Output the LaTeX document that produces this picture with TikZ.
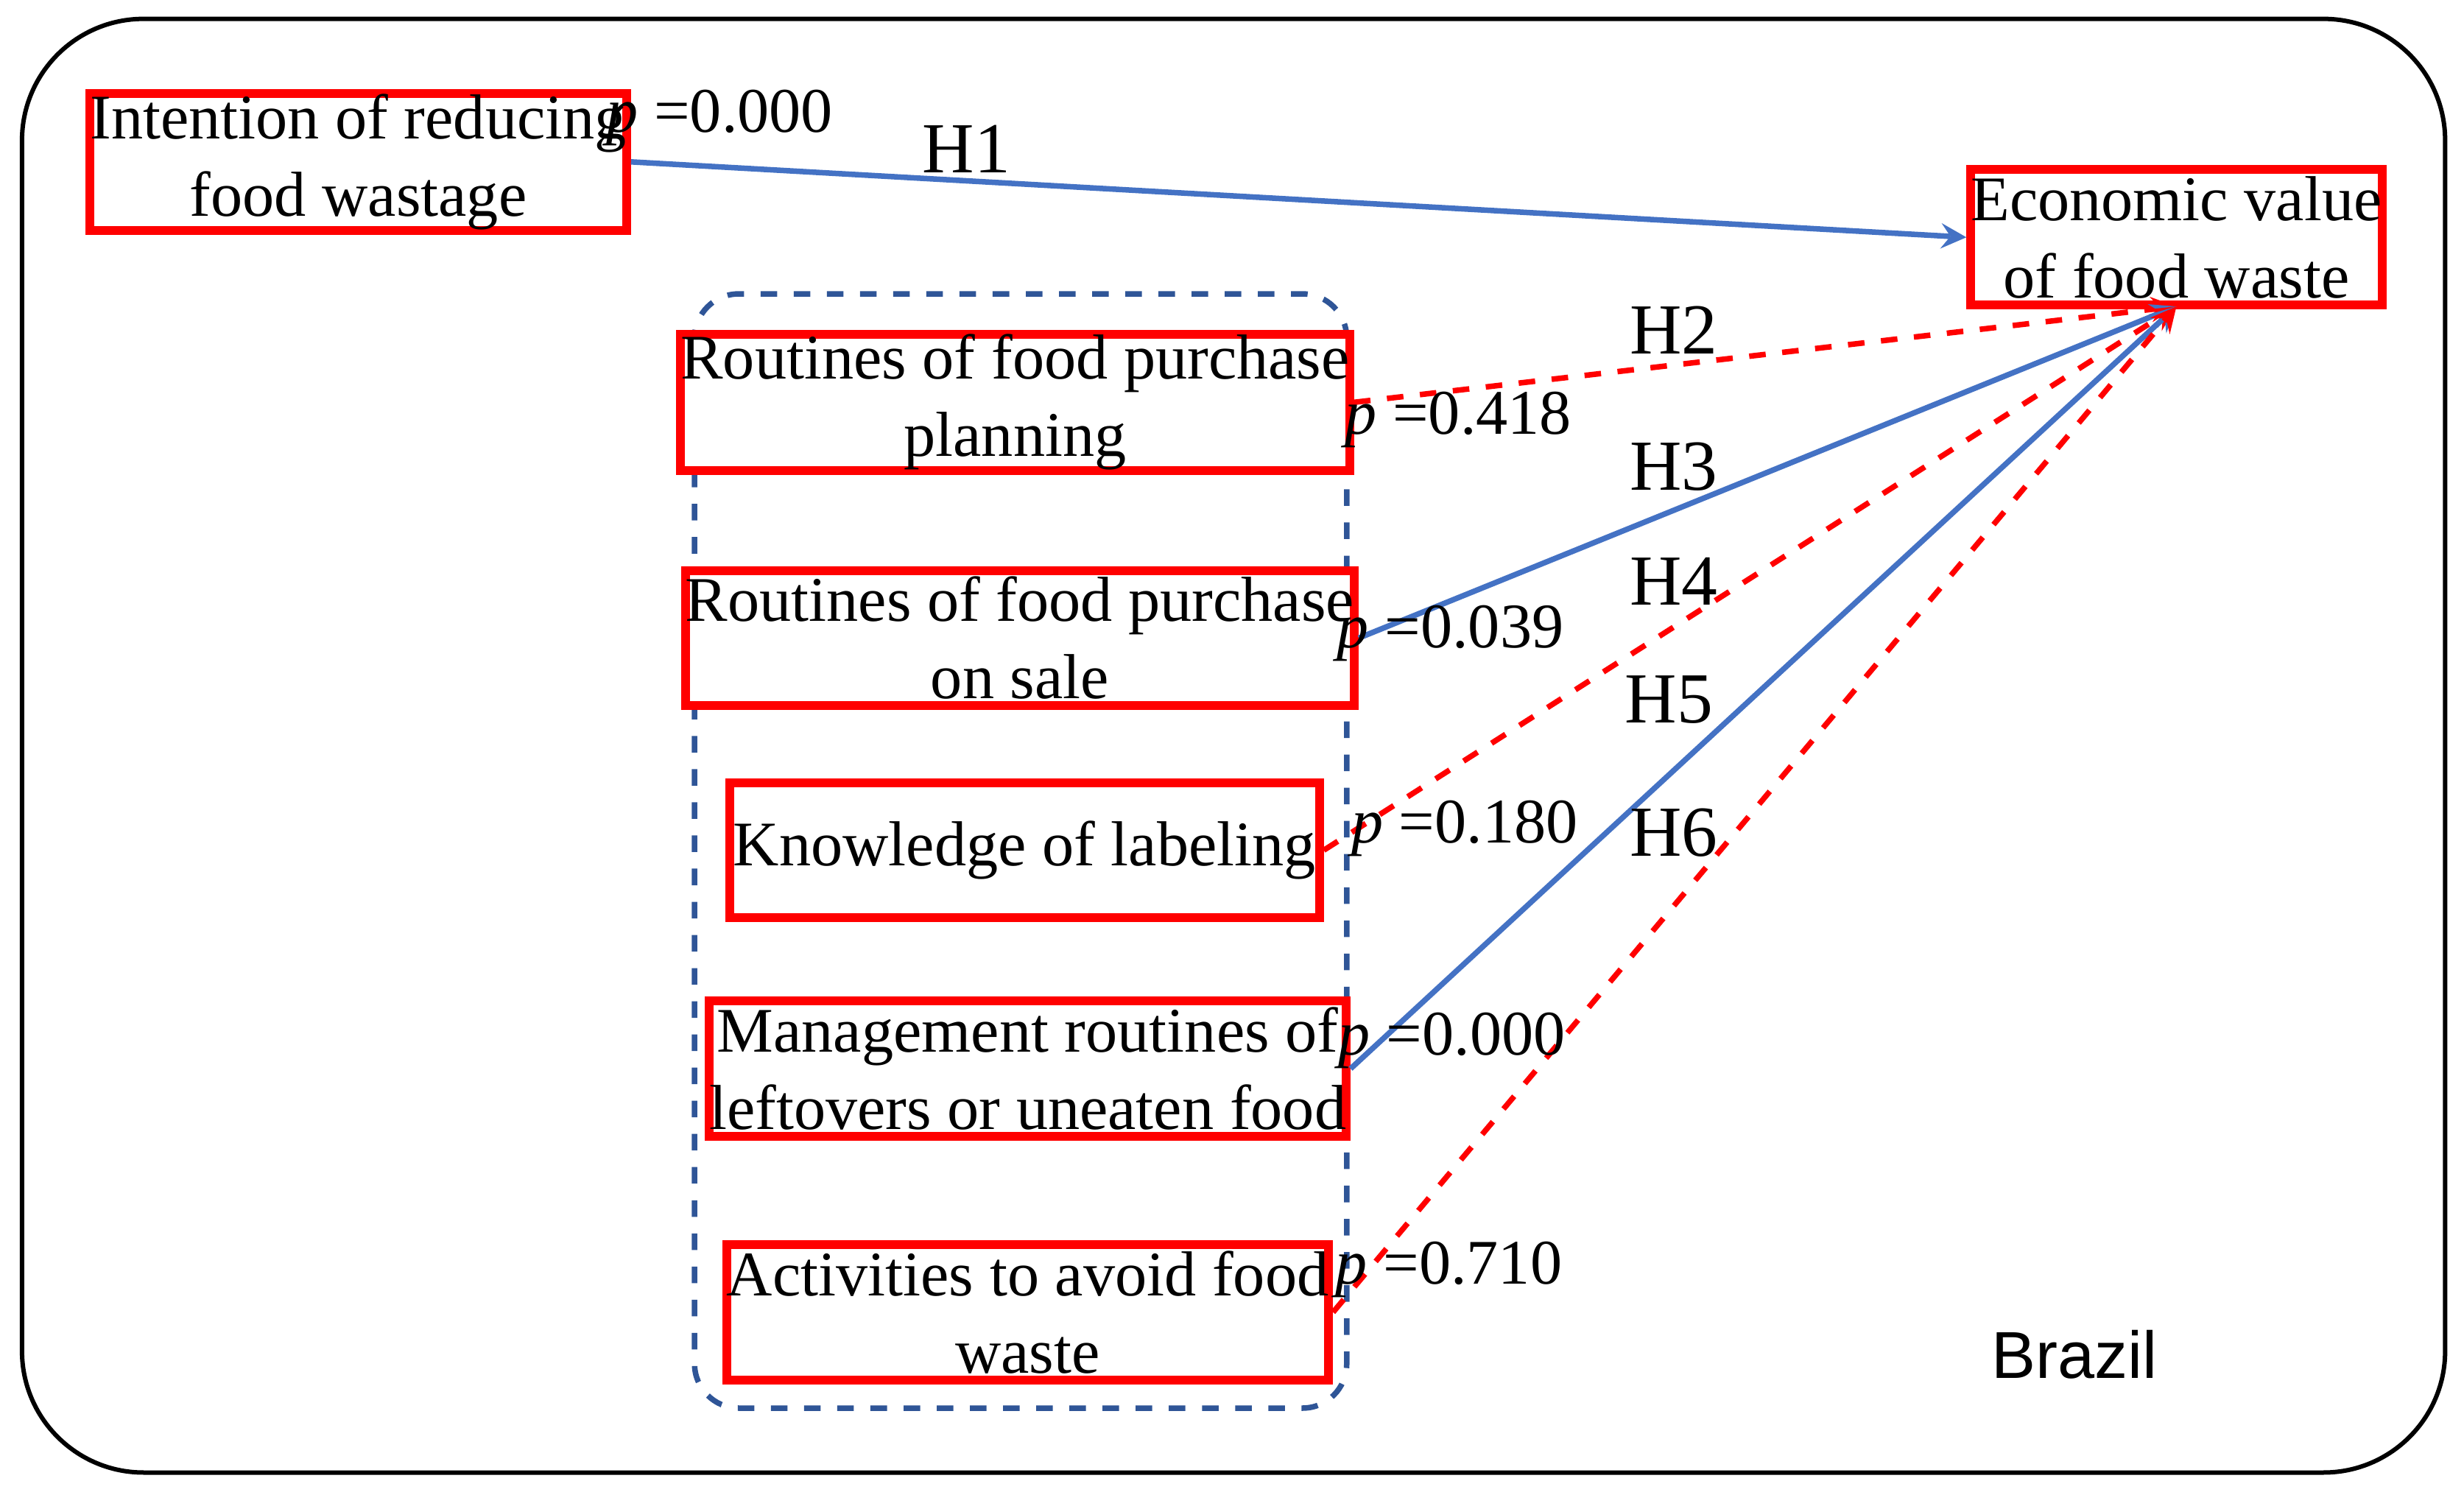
\documentclass[tikz,border=0pt]{standalone}
\usepackage{fontspec}
\setmainfont{Liberation Serif}
\newfontfamily\sansf{Liberation Sans}
\begin{document}
\begin{tikzpicture}[x=0.01cm,y=-0.01cm,
 box/.style={draw=red,line width=1.6pt,fill=white,align=center,inner sep=0pt,font=\fontsize{11.5}{14}\selectfont},
 blu/.style={draw={rgb,255:red,68;green,114;blue,196},line width=1pt,-stealth},
 rd/.style={draw=red,line width=1pt,dashed,-stealth},
 lab/.style={font=\fontsize{11.5}{14}\selectfont},
 hl/.style={font=\fontsize{13}{15}\selectfont}]
\useasboundingbox (0,0) rectangle (1568,951);
\draw[rounded corners=22pt,line width=0.8pt] (14,12) rectangle (1556,937);
\draw[dashed,rounded corners=8pt,line width=1pt,draw={rgb,255:red,47;green,85;blue,151}] (442,187) rectangle (857,896);
\node[box,minimum width=327\pgflinewidth*0+3.27cm,minimum height=0.87cm] (i) at (228,103) {Intention of reducing\\food wastage};
\node[box,minimum width=2.39cm,minimum height=0.86cm] (e) at (1385,151) {Economic value\\of food waste};
\node[box,minimum width=3.74cm,minimum height=0.86cm] (r1) at (646,256) {Routines of food purchase\\planning};
\node[box,minimum width=3.75cm,minimum height=0.86cm] (r2) at (649,406) {Routines of food purchase\\on sale};
\node[box,minimum width=3.75cm,minimum height=0.86cm] (k) at (652,541) {Knowledge of labeling};
\node[box,minimum width=3.76cm,minimum height=0.86cm] (m) at (654,680) {Management routines of\\leftovers or uneaten food};
\node[box,minimum width=3.76cm,minimum height=0.86cm] (a) at (654,835) {Activities to avoid food\\waste};
\coordinate (t) at (1385,195);
\draw[blu] (i.east) -- (e.west);
\draw[rd] (r1.east) -- (t);
\draw[blu] (r2.east) -- (t);
\draw[rd] (k.east) -- (t);
\draw[blu] (m.east) -- (t);
\draw[rd] (a.east) -- (t);
\node[lab] (p1) at (458,75) {\textit{p} =0.000};
\node[hl] (h1) at (615,95) {H1};
\node[hl] (h2) at (1065,210) {H2};
\node[lab] (p2) at (928,267) {\textit{p} =0.418};
\node[hl] (h3) at (1065,297) {H3};
\node[lab] (p3) at (923,403) {\textit{p} =0.039};
\node[hl] (h4) at (1065,370) {H4};
\node[hl] (h5) at (1062,445) {H5};
\node[lab] (p4) at (932,527) {\textit{p} =0.180};
\node[hl] (h6) at (1065,530) {H6};
\node[lab] (p5) at (924,662) {\textit{p} =0.000};
\node[lab] (p6) at (922,808) {\textit{p} =0.710};
\node[font=\sansf\fontsize{12}{14}\selectfont] (b) at (1320,862) {Brazil};
\end{tikzpicture}
\end{document}
